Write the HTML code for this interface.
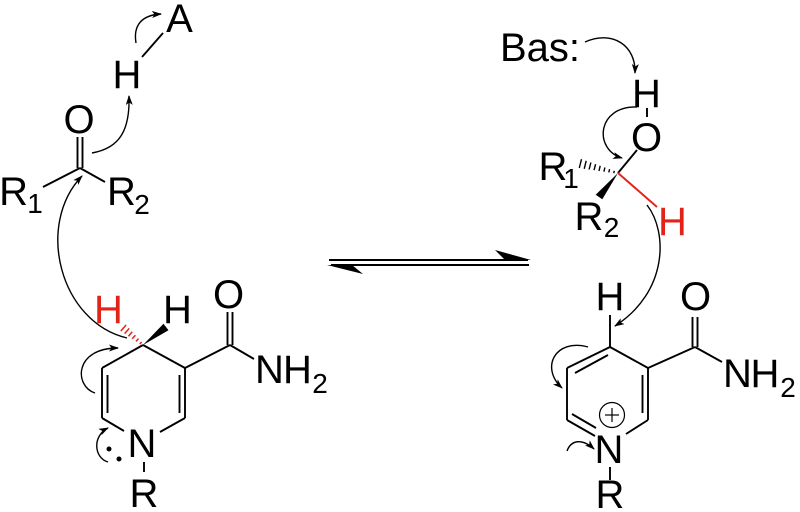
<!DOCTYPE html>
<html><head><meta charset="utf-8"><style>
html,body{margin:0;padding:0;background:#fff;}
svg{display:block;}
text{font-family:"Liberation Sans",Arial,sans-serif;}
</style></head><body>
<svg width="800" height="512" viewBox="0 0 800 512" xmlns="http://www.w3.org/2000/svg">
<defs>
<marker id="ah" markerUnits="userSpaceOnUse" markerWidth="12" markerHeight="10" refX="9" refY="3.5" orient="auto">
<path d="M0,0 L10,3.5 L0,7 L2.5,3.5 z" fill="#000"/>
</marker>
</defs>
<g stroke="#000" stroke-width="1.9" fill="none" stroke-linecap="butt">
<line x1="142" y1="57" x2="163" y2="33"/>
<line x1="77.5" y1="137" x2="77.5" y2="168"/>
<line x1="82.5" y1="137" x2="82.5" y2="168"/>
<line x1="80" y1="168" x2="43" y2="187"/>
<line x1="80" y1="168" x2="105" y2="182"/>
<line x1="143" y1="345" x2="102" y2="368"/>
<line x1="102" y1="368" x2="102" y2="418"/>
<line x1="107.5" y1="375" x2="107.5" y2="413"/>
<line x1="102" y1="418" x2="124" y2="431"/>
<line x1="160" y1="432" x2="185" y2="418"/>
<line x1="185" y1="418" x2="185" y2="368"/>
<line x1="179.5" y1="413" x2="179.5" y2="375"/>
<line x1="185" y1="368" x2="143" y2="345"/>
<line x1="185" y1="368" x2="230" y2="345"/>
<line x1="227.5" y1="312" x2="227.5" y2="345"/>
<line x1="232.5" y1="312" x2="232.5" y2="345"/>
<line x1="230" y1="345" x2="254" y2="359"/>
<line x1="144" y1="462" x2="144" y2="472"/>
<line x1="647" y1="108" x2="647" y2="117"/>
<line x1="618" y1="173" x2="637" y2="150"/>
<line x1="610" y1="315" x2="610" y2="347"/>
<line x1="610" y1="347" x2="567" y2="368"/>
<line x1="575" y1="373" x2="608" y2="355"/>
<line x1="567" y1="368" x2="567" y2="420"/>
<line x1="567" y1="420" x2="595" y2="436"/>
<line x1="572" y1="414" x2="596" y2="428"/>
<line x1="626" y1="434" x2="648" y2="420"/>
<line x1="648" y1="420" x2="648" y2="368"/>
<line x1="642.5" y1="413" x2="642.5" y2="375"/>
<line x1="648" y1="368" x2="610" y2="347"/>
<line x1="648" y1="368" x2="695" y2="347"/>
<line x1="692.5" y1="317" x2="692.5" y2="347"/>
<line x1="697.5" y1="317" x2="697.5" y2="347"/>
<line x1="695" y1="347" x2="722" y2="362"/>
<line x1="610" y1="467" x2="610" y2="480"/>
<line x1="329" y1="260" x2="528" y2="260"/>
<line x1="331" y1="265" x2="529" y2="265"/>
</g>
<polygon points="531,260 495,250 505,260" fill="#000"/>
<polygon points="327,265 363,274 352,265" fill="#000"/>
<polygon points="143,345 168.5,330.2 163.5,323.8" fill="#000"/>
<polygon points="618,173 602.3,199.2 595.7,194.8" fill="#000"/>
<g stroke="#e2231a" stroke-width="1.5">
<line x1="141.6" y1="342.0" x2="139.8" y2="344.0"/>
<line x1="138.5" y1="338.6" x2="136.0" y2="341.4"/>
<line x1="135.4" y1="335.2" x2="132.2" y2="338.8"/>
<line x1="132.25" y1="331.8" x2="128.45" y2="336.2"/>
<line x1="129.2" y1="328.4" x2="124.6" y2="333.6"/>
<line x1="126.1" y1="325" x2="120.8" y2="331"/>
</g>
<g stroke="#000" stroke-width="1.4">
<line x1="614.3" y1="170.8" x2="613.7" y2="173.2"/>
<line x1="609.6" y1="169.15" x2="608.8" y2="172.45"/>
<line x1="604.9" y1="167.5" x2="603.9" y2="171.7"/>
<line x1="600.2" y1="165.8" x2="599" y2="171"/>
<line x1="595.6" y1="164.2" x2="594" y2="170.2"/>
<line x1="590.9" y1="162.5" x2="589.1" y2="169.5"/>
<line x1="586.2" y1="160.8" x2="584.2" y2="168.8"/>
<line x1="581.5" y1="159.2" x2="579.3" y2="168"/>
</g>
<line x1="618" y1="173" x2="657" y2="207" stroke="#e2231a" stroke-width="1.9"/>
<circle cx="612" cy="415" r="12.5" fill="none" stroke="#000" stroke-width="1.2"/>
<line x1="605" y1="415" x2="619" y2="415" stroke="#000" stroke-width="1.2"/>
<line x1="612" y1="408" x2="612" y2="422" stroke="#000" stroke-width="1.2"/>
<circle cx="109" cy="449" r="2.5" fill="#000"/>
<circle cx="119" cy="459" r="2.5" fill="#000"/>
<g stroke="#000" stroke-width="1.4" fill="none" marker-end="url(#ah)">
<path d="M136,43 C133,25 142,15 161,14"/>
<path d="M92,153 C120,148 130,130 129,96"/>
<path d="M127,338 C60,322 35,225 82,176"/>
<path d="M95,393 C74,386 74,348 118,348"/>
<path d="M108,462 C94,458 92,436 108,428"/>
<path d="M585,42 C612,30 636,45 635,73"/>
<path d="M637,107 C596,106 594,150 622,158"/>
<path d="M647,205 C668,232 668,292 615,326"/>
<path d="M588,347 C555,338 540,368 562,388"/>
<path d="M567,451 C571,440 582,438 594,449"/>
</g>
<g font-size="40" fill="#000" text-anchor="middle">
<text x="179.5" y="32">A</text>
<text x="127" y="88">H</text>
<text x="79" y="133">O</text>
<text x="13.5" y="205">R</text>
<text x="121.5" y="205">R</text>
<text x="177.5" y="323">H</text>
<text x="228.5" y="308">O</text>
<text x="269.5" y="383">N</text>
<text x="297.5" y="383">H</text>
<text x="142" y="457">N</text>
<text x="144" y="507">R</text>
<text x="540" y="61">Bas:</text>
<text x="646.5" y="107">H</text>
<text x="646.5" y="151">O</text>
<text x="553" y="180">R</text>
<text x="589" y="230">R</text>
<text x="610" y="310">H</text>
<text x="695.5" y="310">O</text>
<text x="737.5" y="387">N</text>
<text x="765" y="387">H</text>
<text x="609" y="463">N</text>
<text x="610" y="508">R</text>
</g>
<g font-size="40" fill="#e2231a" text-anchor="middle">
<text x="108.5" y="323">H</text>
<text x="672.5" y="235">H</text>
</g>
<g font-size="28" fill="#000" text-anchor="middle">
<text x="35" y="213">1</text>
<text x="142" y="214">2</text>
<text x="320" y="393">2</text>
<text x="571" y="188">1</text>
<text x="611.5" y="237">2</text>
<text x="788" y="397">2</text>
</g>
</svg>
</body></html>
